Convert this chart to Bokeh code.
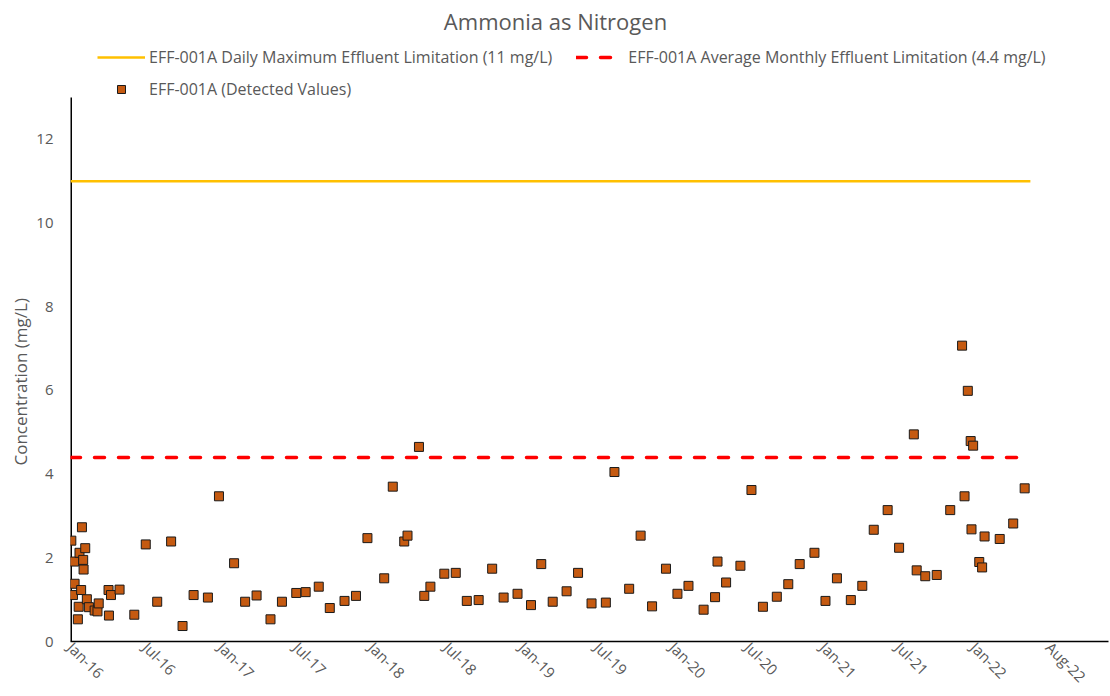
import math
from datetime import datetime, timedelta

from bokeh.plotting import figure
from bokeh.models import (ColumnDataSource, Range1d, FixedTicker, Legend, LegendItem,
                          Title, Label, DatetimeTickFormatter)
from bokeh.embed import file_html
from bokeh.resources import INLINE

# ---------------- data ----------------
title_text = "Ammonia as Nitrogen"
y_title = "Concentration (mg/L)"

daily_max_label = "EFF-001A Daily Maximum Effluent Limitation (11 mg/L)"
monthly_avg_label = "EFF-001A Average Monthly Effluent Limitation (4.4 mg/L)"
detected_label = "EFF-001A (Detected Values)"

daily_max_limit = 11.0
monthly_avg_limit = 4.4
limit_span = ["2016-01-14", "2022-06-18"]

sample_dates = [
    "2016-01-16", "2016-01-20", "2016-01-23", "2016-01-24", "2016-02-01", "2016-02-03", "2016-02-05",
    "2016-02-09", "2016-02-11", "2016-02-14", "2016-02-15", "2016-02-19", "2016-02-23", "2016-02-28",
    "2016-03-13", "2016-03-20", "2016-03-23", "2016-04-16", "2016-04-17", "2016-04-22", "2016-05-13",
    "2016-06-18", "2016-07-16", "2016-08-13", "2016-09-16", "2016-10-14", "2016-11-10", "2016-12-15",
    "2017-01-11", "2017-02-17", "2017-03-16", "2017-04-13", "2017-05-17", "2017-06-14", "2017-07-19",
    "2017-08-11", "2017-09-12", "2017-10-09", "2017-11-14", "2017-12-12",
    "2018-01-09", "2018-02-19", "2018-03-12", "2018-04-09", "2018-04-17", "2018-05-15", "2018-05-28",
    "2018-06-12", "2018-07-16", "2018-08-13", "2018-09-09", "2018-10-08", "2018-11-10", "2018-12-08",
    "2019-01-11", "2019-02-13", "2019-03-10", "2019-04-07", "2019-05-11", "2019-06-08", "2019-07-11",
    "2019-08-15", "2019-09-05", "2019-10-11", "2019-11-08", "2019-12-06",
    "2020-01-09", "2020-02-06", "2020-03-04", "2020-04-10", "2020-05-08", "2020-05-14", "2020-06-04",
    "2020-07-09", "2020-08-05", "2020-09-02", "2020-10-06", "2020-11-03", "2020-12-01",
    "2021-01-06", "2021-02-02", "2021-03-02", "2021-04-05", "2021-05-03", "2021-05-31", "2021-07-04",
    "2021-08-01", "2021-09-06", "2021-09-13", "2021-10-04", "2021-11-01", "2021-12-04",
    "2022-01-02", "2022-01-08", "2022-01-16", "2022-01-23", "2022-01-25", "2022-01-29", "2022-02-13",
    "2022-02-20", "2022-02-26", "2022-04-04", "2022-05-07", "2022-06-04",
]
sample_values = [
    2.41, 1.11, 1.91, 1.38, 0.53, 0.83, 2.12,
    1.23, 2.73, 1.95, 1.72, 2.23, 1.01, 0.82,
    0.74, 0.72, 0.91, 1.23, 0.62, 1.11, 1.24,
    0.64, 2.32, 0.95, 2.39, 0.37, 1.11, 1.05,
    3.47, 1.87, 0.95, 1.10, 0.53, 0.95, 1.16,
    1.18, 1.31, 0.80, 0.97, 1.09,
    2.47, 1.51, 3.70, 2.39, 2.53, 4.65, 1.09,
    1.31, 1.62, 1.64, 0.97, 0.99, 1.74, 1.05,
    1.14, 0.87, 1.85, 0.95, 1.20, 1.64, 0.91,
    0.93, 4.05, 1.26, 2.53, 0.84,
    1.74, 1.14, 1.33, 0.76, 1.06, 1.91, 1.41,
    1.81, 3.62, 0.83, 1.07, 1.37, 1.85,
    2.12, 0.97, 1.51, 0.99, 1.33, 2.67, 3.14,
    2.24, 4.95, 1.70, 1.56, 1.59, 3.14,
    7.07, 3.47, 5.99, 4.79, 2.68, 4.68, 1.90,
    1.77, 2.51, 2.45, 2.82, 3.66,
]

x_tick_labels = ["Jan-16", "Jul-16", "Jan-17", "Jul-17", "Jan-18", "Jul-18", "Jan-19",
                 "Jul-19", "Jan-20", "Jul-20", "Jan-21", "Jul-21", "Jan-22", "Aug-22"]
y_ticks = [0, 2, 4, 6, 8, 10, 12]
y_axis_top = 13

# ---------------- layout / styling ----------------
FONT = "Open Sans"
GREY = "#595959"
W, H = 1110, 696
FRAME_LEFT = 70          # page x of the value axis
FRAME_BOTTOM = 641       # page y of the date axis
AXIS_TOP = 97            # page y where the value axis ends (value 13)
x_start = datetime(2016, 1, 14)
x_end = datetime(2022, 12, 26)
tick_step_days = 184

# the frame reaches the top of the canvas so that title & legend can live inside it
y_max = y_axis_top * FRAME_BOTTOM / (FRAME_BOTTOM - AXIS_TOP)


def to_dt(s):
    return datetime.strptime(s, "%Y-%m-%d")


def to_ms(d):
    return (d - datetime(1970, 1, 1)).total_seconds() * 1000.0


src = ColumnDataSource(data=dict(date=[to_dt(s) for s in sample_dates], value=sample_values))

p = figure(width=W, height=H, x_axis_type="datetime", title=None,
           x_range=Range1d(x_start, x_end), y_range=Range1d(0, y_max),
           output_backend="svg", toolbar_location=None,
           min_border_left=FRAME_LEFT, min_border_right=2, min_border_top=0,
           min_border_bottom=H - FRAME_BOTTOM)
p.outline_line_alpha = 0
p.xgrid.visible = False
p.ygrid.visible = False
p.background_fill_color = "white"
p.border_fill_color = "white"

# value-axis line (0 .. 13)
p.segment(x0=[x_start], y0=[0], x1=[x_start], y1=[y_axis_top], line_color="black", line_width=3)

span_dates = [to_dt(s) for s in limit_span]
l_max = p.line(span_dates, [daily_max_limit] * 2, line_color="#FFC000", line_width=2.5)
l_avg = p.line(span_dates, [monthly_avg_limit] * 2, line_color="#FF0000", line_width=3.5,
               line_dash="10 14", line_cap="round")
pts = p.scatter(x="date", y="value", source=src, marker="square", size=9,
                fill_color="#C55A11", line_color="#1a1a1a", line_width=1)

# axes
tick_dates = [x_start + timedelta(days=tick_step_days * k) for k in range(len(x_tick_labels))]
tick_ms = [to_ms(d) for d in tick_dates]
xa = p.xaxis[0]
xa.ticker = FixedTicker(ticks=tick_ms)
fmt = "%b-%y"
xa.formatter = DatetimeTickFormatter(days=fmt, months=fmt, years=fmt, hours=fmt, minutes=fmt,
                                     seconds=fmt, milliseconds=fmt, minsec=fmt, hourmin=fmt)
xa.major_label_overrides = {t: lab for t, lab in zip(tick_ms, x_tick_labels)}
xa.major_label_orientation = -math.pi / 4
xa.major_label_standoff = 3
xa.axis_line_color = "black"
xa.axis_line_width = 1.5

ya = p.yaxis[0]
ya.ticker = FixedTicker(ticks=y_ticks)
ya.major_label_standoff = 17
ya.axis_line_alpha = 0

for ax in (xa, ya):
    ax.major_tick_out = 0
    ax.major_tick_in = 0
    ax.minor_tick_out = 0
    ax.minor_tick_in = 0
    ax.major_label_text_font = FONT
    ax.major_label_text_font_size = "15px"
    ax.major_label_text_color = GREY

# y-axis title as a Title in the left panel, positioned along the axis
p.add_layout(Title(text=y_title, align="left", offset=(FRAME_BOTTOM - 381) - 84,
                   text_font=FONT, text_font_size="17px", text_font_style="normal",
                   text_color=GREY, standoff=4), "left")

# chart title
p.add_layout(Label(x=555 - FRAME_LEFT, y=FRAME_BOTTOM - 20, x_units="screen", y_units="screen",
                   text=title_text, text_align="center", text_baseline="middle",
                   text_font=FONT, text_font_size="22px", text_color=GREY))

# legends (two rows)
common = dict(orientation="horizontal", glyph_width=48, glyph_height=20, label_height=20,
              label_standoff=4, padding=0, margin=0, border_line_alpha=0, background_fill_alpha=0,
              label_text_font=FONT, label_text_font_size="16px", label_text_color=GREY)
leg1 = Legend(items=[LegendItem(label=daily_max_label, renderers=[l_max]),
                     LegendItem(label=monthly_avg_label, renderers=[l_avg])],
              location=(97 - FRAME_LEFT, FRAME_BOTTOM - 68), spacing=24, **common)
leg2 = Legend(items=[LegendItem(label=detected_label, renderers=[pts])],
              location=(97 - FRAME_LEFT, FRAME_BOTTOM - 100), spacing=0, **common)
p.add_layout(leg1, "center")
p.add_layout(leg2, "center")

open("out.html", "w").write(file_html(p, INLINE))
